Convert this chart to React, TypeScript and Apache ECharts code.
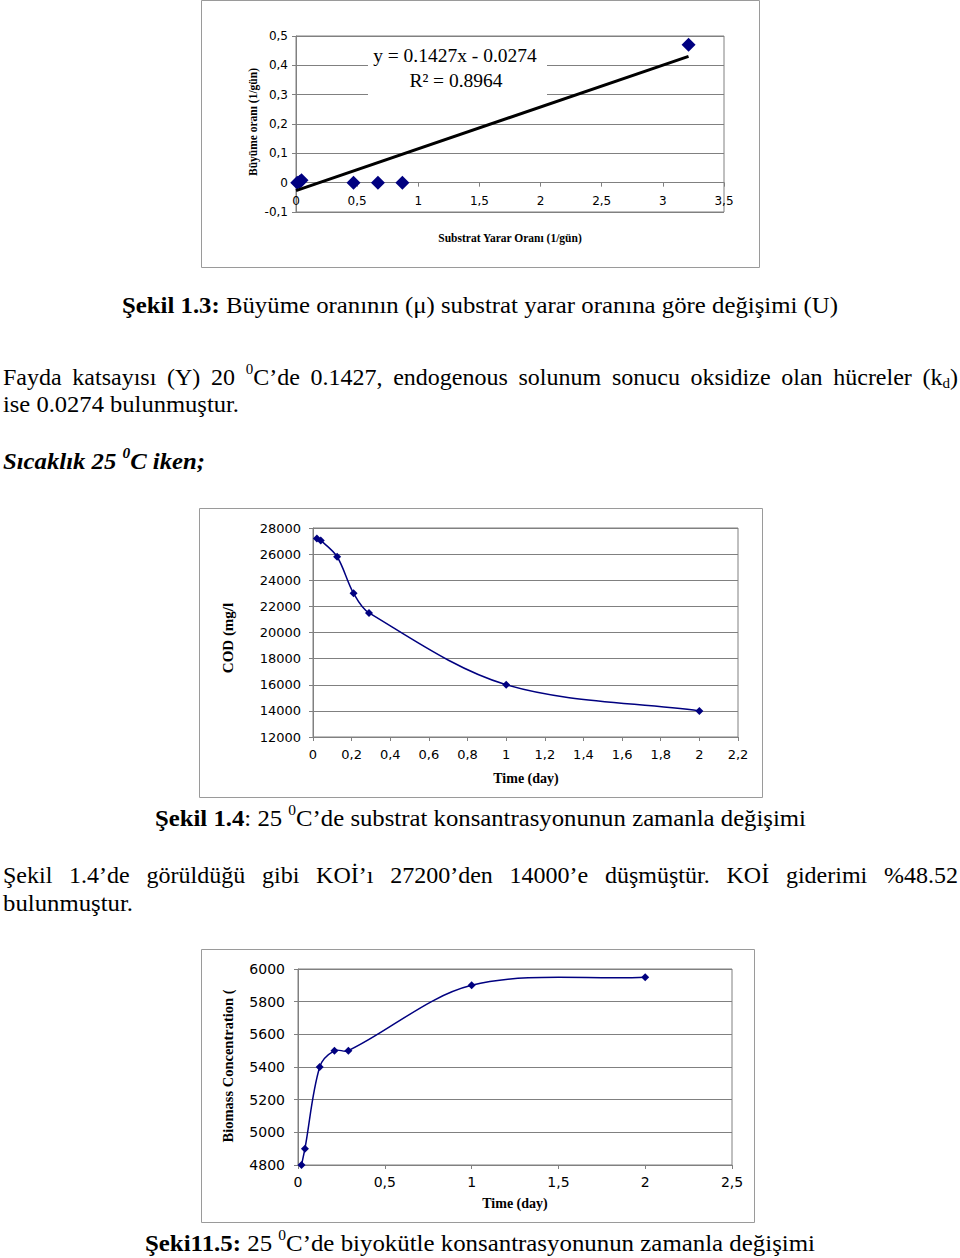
import React, { useEffect, useRef } from "react";
import * as echarts from "echarts";

// ---------- DATA ----------
// Figure 1.3: growth rate vs substrate utilization rate
const fig1X = [0.01, 0.03, 0.045, 0.47, 0.67, 0.87, 3.21];
const fig1Y = [0, 0.003, 0.008, 0, 0, 0, 0.47];
const trendX = [0, 3.21];
const trendY = [-0.0274, 0.4307];
const trendEquation = "y = 0.1427x - 0.0274";
const trendR2 = "R² = 0.8964";

// Figure 1.4 & 1.5: time series (days)
const timeDays = [0.02, 0.04, 0.125, 0.21, 0.29, 1, 2];
const codValues = [27200, 27050, 25800, 23000, 21500, 16000, 14000];
const biomassValues = [4800, 4900, 5400, 5500, 5500, 5900, 5950];

// ---------- TEXT LAYOUT ----------
type Kind = "n" | "b" | "bi" | "sup" | "bisup" | "sub";
type Seg = [Kind, string];
type Word = Seg[];
interface Line {
  y: number;
  x0: number;
  x1: number;
  mode: "fit" | "justify";
  words: Word[];
}

const SERIF = '"Liberation Serif", "Times New Roman", serif';
const BODY = 24;
const SMALL = 15;

const fontOf = (k: Kind) => {
  switch (k) {
    case "b":
      return `bold ${BODY}px ${SERIF}`;
    case "bi":
      return `italic bold ${BODY}px ${SERIF}`;
    case "sup":
    case "sub":
      return `${SMALL}px ${SERIF}`;
    case "bisup":
      return `italic bold ${SMALL}px ${SERIF}`;
    default:
      return `${BODY}px ${SERIF}`;
  }
};
const dyOf = (k: Kind) => (k === "sup" || k === "bisup" ? -8 : k === "sub" ? 6 : 0);

const w = (...segs: Seg[]): Word => segs;
const n = (t: string): Word => [["n", t]];
const b = (t: string): Word => [["b", t]];
const bi = (t: string): Word => [["bi", t]];

const textLines: Line[] = [
  {
    y: 305, x0: 122, x1: 838, mode: "fit",
    words: [b("Şekil"), b("1.3:"), n("Büyüme"), n("oranının"), n("(μ)"), n("substrat"), n("yarar"), n("oranına"), n("göre"), n("değişimi"), n("(U)")],
  },
  {
    y: 377, x0: 3, x1: 958, mode: "justify",
    words: [n("Fayda"), n("katsayısı"), n("(Y)"), n("20"), w(["sup", "0"], ["n", "C’de"]), n("0.1427,"), n("endogenous"), n("solunum"), n("sonucu"), n("oksidize"), n("olan"), n("hücreler"), w(["n", "(k"], ["sub", "d"], ["n", ")"])],
  },
  {
    y: 404, x0: 3, x1: 239, mode: "fit",
    words: [n("ise"), n("0.0274"), n("bulunmuştur.")],
  },
  {
    y: 461, x0: 3, x1: 205, mode: "fit",
    words: [bi("Sıcaklık"), bi("25"), w(["bisup", "0"], ["bi", "C"]), bi("iken;")],
  },
  {
    y: 818, x0: 155, x1: 806, mode: "fit",
    words: [b("Şekil"), w(["b", "1.4"], ["n", ":"]), n("25"), w(["sup", "0"], ["n", "C’de"]), n("substrat"), n("konsantrasyonunun"), n("zamanla"), n("değişimi")],
  },
  {
    y: 875, x0: 3, x1: 958, mode: "justify",
    words: [n("Şekil"), n("1.4’de"), n("görüldüğü"), n("gibi"), n("KOİ’ı"), n("27200’den"), n("14000’e"), n("düşmüştür."), n("KOİ"), n("giderimi"), n("%48.52")],
  },
  {
    y: 903, x0: 3, x1: 133, mode: "fit",
    words: [n("bulunmuştur.")],
  },
  {
    y: 1243, x0: 145, x1: 815, mode: "fit",
    words: [b("Şeki11.5:"), n("25"), w(["sup", "0"], ["n", "C’de"]), n("biyokütle"), n("konsantrasyonunun"), n("zamanla"), n("değişimi")],
  },
];

function buildLines(lines: Line[]) {
  const c = document.createElement("canvas").getContext("2d")!;
  const m = (k: Kind, t: string) => {
    c.font = fontOf(k);
    return c.measureText(t).width;
  };
  const els: any[] = [];
  const sp = m("n", " ");
  for (const L of lines) {
    const ww = L.words.map((wd) => wd.reduce((s, [k, t]) => s + m(k, t), 0));
    const sum = ww.reduce((a, c2) => a + c2, 0);
    const cnt = L.words.length;
    let sx = 1;
    let gap = sp;
    if (L.mode === "fit") {
      sx = (L.x1 - L.x0) / (sum + sp * (cnt - 1));
      gap = sp * sx;
    } else {
      gap = (L.x1 - L.x0 - sum) / (cnt - 1);
    }
    let x = L.x0;
    L.words.forEach((wd) => {
      wd.forEach(([k, t]) => {
        els.push({
          type: "text",
          x,
          y: L.y + dyOf(k),
          scaleX: sx,
          silent: true,
          z: 5,
          style: { text: t, font: fontOf(k), fill: "#000", textAlign: "left", verticalAlign: "middle" },
        });
        x += m(k, t) * sx;
      });
      x += gap;
    });
  }
  return els;
}

// ---------- CHART HELPERS ----------
const GRAY = "#808080";
const NAVY = "#000080";
const fmt = (v: number) => String(Number(v.toFixed(3))).replace(".", ",");

const xAxisOf = (gridIndex: number, min: number, max: number, interval: number, fontSize: number, margin: number, offset = 0) => ({
  type: "value",
  gridIndex,
  min,
  max,
  interval,
  offset,
  axisLine: { show: true, onZero: false, lineStyle: { color: GRAY, width: 1 } },
  axisTick: { show: true, length: 4, inside: false, lineStyle: { color: GRAY } },
  splitLine: { show: false },
  axisLabel: {
    formatter: fmt,
    color: "#000",
    fontFamily: '"DejaVu Sans", sans-serif',
    fontSize,
    margin,
    showMinLabel: true,
    showMaxLabel: true,
  },
});

const yAxisOf = (gridIndex: number, min: number, max: number, interval: number, fontSize: number, margin: number) => ({
  type: "value",
  gridIndex,
  min,
  max,
  interval,
  axisLine: { show: true, onZero: false, lineStyle: { color: GRAY, width: 1 } },
  axisTick: { show: true, length: 4, inside: false, lineStyle: { color: GRAY } },
  splitLine: { show: true, lineStyle: { color: GRAY, width: 1 } },
  axisLabel: {
    formatter: fmt,
    color: "#000",
    fontFamily: '"DejaVu Sans", sans-serif',
    fontSize,
    margin,
    showMinLabel: true,
    showMaxLabel: true,
  },
});

// Excel-like smoothed line: cubic Bezier segments whose tangents are scaled
// by the lengths of neighbouring segments (in pixel space, via the axes).
const smoothCurve = (axisIdx: number, xs: number[], ys: number[]) => ({
  type: "custom",
  xAxisIndex: axisIdx,
  yAxisIndex: axisIdx,
  clip: false,
  silent: true,
  z: 2,
  data: xs.map((x, i) => [x, ys[i]]),
  encode: { x: 0, y: 1 },
  renderItem: (params: any, api: any) => {
    const i = params.dataIndex;
    const last = xs.length - 1;
    if (i >= last) return { type: "group", children: [] };
    const P = (j: number) => api.coord([xs[j], ys[j]]) as number[];
    const dist = (a: number[], c: number[]) => Math.hypot(a[0] - c[0], a[1] - c[1]);
    const K = 1 / 3;
    const outCp = (j: number) => {
      const p = P(j);
      const nx = P(j + 1);
      if (j === 0) return [p[0] + (nx[0] - p[0]) * K, p[1] + (nx[1] - p[1]) * K];
      const pv = P(j - 1);
      const dP = dist(p, pv);
      const dN = dist(nx, p);
      const r = (K * dN) / (dP + dN);
      return [p[0] + (nx[0] - pv[0]) * r, p[1] + (nx[1] - pv[1]) * r];
    };
    const inCp = (j: number) => {
      const p = P(j);
      const pv = P(j - 1);
      if (j === last) return [p[0] - (p[0] - pv[0]) * K, p[1] - (p[1] - pv[1]) * K];
      const nx = P(j + 1);
      const dP = dist(p, pv);
      const dN = dist(nx, p);
      const r = (K * dP) / (dP + dN);
      return [p[0] - (nx[0] - pv[0]) * r, p[1] - (nx[1] - pv[1]) * r];
    };
    const p1 = P(i);
    const p2 = P(i + 1);
    const c1 = outCp(i);
    const c2 = inCp(i + 1);
    return {
      type: "bezierCurve",
      shape: { x1: p1[0], y1: p1[1], x2: p2[0], y2: p2[1], cpx1: c1[0], cpy1: c1[1], cpx2: c2[0], cpy2: c2[1] },
      style: { stroke: NAVY, lineWidth: 1.5, fill: "none" },
    };
  },
});

const markers = (axisIdx: number, xs: number[], ys: number[], size: number) => ({
  type: "scatter",
  xAxisIndex: axisIdx,
  yAxisIndex: axisIdx,
  symbol: "diamond",
  symbolSize: size,
  clip: false,
  z: 3,
  itemStyle: { color: NAVY, opacity: 1 },
  data: xs.map((x, i) => [x, ys[i]]),
});

const frame = (x: number, y: number, wd: number, h: number) => ({
  type: "rect",
  silent: true,
  z: 0,
  shape: { x, y, width: wd, height: h },
  style: { fill: "none", stroke: "#9a9a9a", lineWidth: 1 },
});

const label = (text: string, x: number, y: number, size: number, rotate = false) => ({
  type: "text",
  x,
  y,
  rotation: rotate ? Math.PI / 2 : 0,
  silent: true,
  z: 5,
  style: {
    text,
    font: `bold ${size}px ${SERIF}`,
    fill: "#000",
    textAlign: "center",
    verticalAlign: "middle",
  },
});

export default function App() {
  const ref = useRef<HTMLDivElement>(null);

  useEffect(() => {
    const chart = echarts.init(ref.current!, null, { renderer: "svg" });

    const graphicEls: any[] = [
      frame(201.5, 0.5, 558, 267),
      frame(199.5, 508.5, 563, 289),
      frame(201.5, 949.5, 553, 273),
      // equation box
      { type: "rect", silent: true, z: 1, shape: { x: 368, y: 44, width: 179, height: 56 }, style: { fill: "#fff" } },
      {
        type: "text", x: 455, y: 55, silent: true, z: 5,
        style: { text: trendEquation, font: `19.5px ${SERIF}`, fill: "#000", textAlign: "center", verticalAlign: "middle" },
      },
      {
        type: "text", x: 456, y: 80, silent: true, z: 5,
        style: { text: trendR2, font: `19.5px ${SERIF}`, fill: "#000", textAlign: "center", verticalAlign: "middle" },
      },
      label("Büyüme oranı (1/gün)", 253, 122, 11.5, true),
      label("Substrat Yarar Oranı (1/gün)", 510, 238, 11.5),
      label("COD (mg/l", 228, 638, 15, true),
      label("Time (day)", 526, 778, 14),
      label("Biomass Concentration (", 228, 1066, 14.5, true),
      label("Time (day)", 515, 1203, 14),
      ...buildLines(textLines),
    ];

    const G1 = { left: 296, top: 36, width: 428, height: 176 };
    // x axis of figure 1.3 crosses at y = 0: shift it up from the bottom edge
    const fig1ZeroOffset = -(G1.height * (0 - -0.1)) / (0.5 - -0.1);

    const option: any = {
      animation: false,
      backgroundColor: "#fff",
      grid: [
        { ...G1, show: true, borderColor: GRAY, borderWidth: 1, containLabel: false },
        { left: 313, top: 528, width: 425, height: 209, show: true, borderColor: GRAY, borderWidth: 1, containLabel: false },
        { left: 298, top: 969, width: 434, height: 196, show: true, borderColor: GRAY, borderWidth: 1, containLabel: false },
      ],
      xAxis: [
        xAxisOf(0, 0, 3.5, 0.5, 12, 12, fig1ZeroOffset),
        xAxisOf(1, 0, 2.2, 0.2, 13, 11),
        xAxisOf(2, 0, 2.5, 0.5, 14, 10),
      ],
      yAxis: [
        yAxisOf(0, -0.1, 0.5, 0.1, 12, 8),
        yAxisOf(1, 12000, 28000, 2000, 13, 12),
        yAxisOf(2, 4800, 6000, 200, 14, 13),
      ],
      series: [
        markers(0, fig1X, fig1Y, 14),
        {
          type: "line",
          xAxisIndex: 0,
          yAxisIndex: 0,
          symbol: "none",
          clip: false,
          lineStyle: { color: "#000", width: 3 },
          z: 4,
          data: trendX.map((x, i) => [x, trendY[i]]),
        },
        smoothCurve(1, timeDays, codValues),
        markers(1, timeDays, codValues, 8),
        smoothCurve(2, timeDays, biomassValues),
        markers(2, timeDays, biomassValues, 8),
      ],
      graphic: { elements: graphicEls },
    };

    chart.setOption(option);
    return () => chart.dispose();
  }, []);

  return (
    <div
      ref={ref}
      style={{ position: "absolute", left: 0, top: 0, width: 960, height: 1258, background: "#fff" }}
    />
  );
}
